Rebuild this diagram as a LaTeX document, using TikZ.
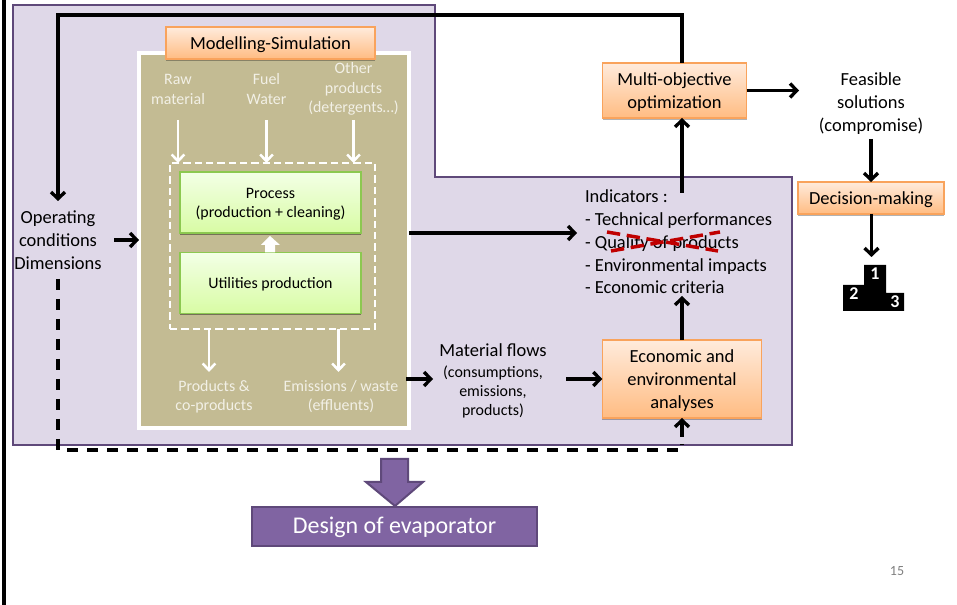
\documentclass[tikz,border=0pt]{standalone}
\usepackage{fontspec}
\setmainfont{Carlito}
\usetikzlibrary{arrows.meta,shadows,calc}
\definecolor{regionfill}{HTML}{DFD8E8}
\definecolor{regionline}{HTML}{5F497A}
\definecolor{tanfill}{HTML}{C3BB93}
\definecolor{darkpurple}{HTML}{8064A2}
\definecolor{orangeline}{HTML}{F9A35C}
\definecolor{orangetop}{HTML}{FFEBDC}
\definecolor{orangebot}{HTML}{FFBC82}
\definecolor{greenline}{HTML}{8CC850}
\definecolor{greentop}{HTML}{F3FFE6}
\definecolor{greenbot}{HTML}{D8FCA4}
\definecolor{whitetext}{HTML}{F2F0E6}
\definecolor{crossred}{HTML}{C00000}
\newcommand{\bigtxt}{\fontsize{13.85}{17.1}\selectfont}
\newcommand{\midtxt}{\fontsize{11.95}{14.6}\selectfont}
\newcommand{\dnbig}{\rule{0pt}{12.4pt}}
\newcommand{\dnmid}{\rule{0pt}{10.6pt}}
\tikzset{
  boxbase/.style={inner sep=0pt,outer sep=0pt,align=center,text=black},
  orangebox/.style={boxbase,draw=orangeline,line width=0.9pt,top color=orangetop,bottom color=orangebot,
    font=\bigtxt,drop shadow={shadow xshift=0pt,shadow yshift=-1.2pt,opacity=.3,fill=black}},
  greenbox/.style={boxbase,draw=greenline,line width=0.9pt,top color=greentop,bottom color=greenbot,
    font=\midtxt,drop shadow={shadow xshift=0pt,shadow yshift=-1.2pt,opacity=.4,fill=black}},
  label/.style={boxbase,font=\bigtxt},
  smalllabel/.style={boxbase,font=\midtxt},
  whitelabel/.style={boxbase,font=\midtxt,text=whitetext},
  arr/.style={line width=2.5pt,-{Straight Barb[length=5pt,width=10.5pt]}},
  whitearr/.style={white,line width=1.9pt,-{Straight Barb[length=5pt,width=9.5pt]}},
  blackdash/.style={line width=2.5pt,dash pattern=on 8.2pt off 6.8pt},
}
\begin{document}
\begin{tikzpicture}[x=0.75pt,y=-0.75pt]
\useasboundingbox (0,0) rectangle (957,605);
\fill[white] (0,0) rectangle (957,605);
\draw[black,line width=2.4pt] (4,0) -- (4,605);
\draw[regionline,fill=regionfill,line width=1.8pt] (13,5) -- (435,5) -- (435,177) -- (792,177) -- (792,445) -- (13,445) -- cycle;

% modelling block
\node[boxbase,draw=white,fill=tanfill,line width=3pt,minimum width=202.5pt,minimum height=280.9pt,
  drop shadow={shadow xshift=0pt,shadow yshift=-1.2pt,opacity=.3,fill=black}] (tan) at (274,240.75) {};
\node[orangebox,minimum width=156.75pt,minimum height=24pt] (model) at (270.5,43) {\dnbig Modelling-Simulation};
\node[whitelabel,minimum width=70pt,minimum height=48.75pt] (raw) at (178,87.5) {\dnmid Raw\\material};
\node[whitelabel,minimum width=50pt,minimum height=48.75pt] (fuel) at (266.5,87.5) {\dnmid Fuel\\Water};
\node[whitelabel,minimum width=72pt,minimum height=48.75pt] (other) at (353.5,87.5) {\dnmid Other\\products\\(detergents…)};
\node[boxbase,draw=white,line width=1.9pt,dash pattern=on 5.5pt off 3pt,minimum width=153.75pt,minimum height=124.5pt] (dash) at (272.5,246) {};
\node[greenbox,minimum width=135.75pt,minimum height=45.75pt] (process) at (270.5,202.5) {\dnmid Process\\(production + cleaning)};
\node[greenbox,minimum width=135.75pt,minimum height=46.1pt] (util) at (270.5,283) {\dnmid Utilities production};
\fill[white] (270,236) -- (280,245) -- (275,245) -- (275,252.5) -- (265,252.5) -- (265,245) -- (261,245) -- cycle;
\draw[whitearr] (raw.south) -- (raw.south |- dash.north);
\draw[whitearr] (fuel.south) -- (fuel.south |- dash.north);
\draw[whitearr] (other.south) -- (other.south |- dash.north);
\coordinate (pa) at (209,372);
\coordinate (ea) at (338.5,372);
\draw[whitearr] (pa |- dash.south) -- (pa);
\draw[whitearr] (ea |- dash.south) -- (ea);
\node[whitelabel] (prod) at (214,396.5) {Products \&\\co-products};
\node[whitelabel] (emis) at (341,396.5) {Emissions / waste\\(effluents)};

% left side
\node[label,minimum width=84pt,minimum height=58.5pt] (oper) at (58,240) {Operating\\conditions\\Dimensions};
\draw[arr] (oper.east) -- (oper.east -| tan.west);

% middle & right nodes
\node[label,anchor=west,align=left,inner xsep=6pt,font=\bigtxt] (ind) at (577,242) {Indicators :\\- Technical performances\\- Quality of products\\- Environmental impacts\\- Economic criteria};
\node[orangebox,minimum width=108pt,minimum height=41.25pt] (multi) at (674.5,90.5) {\dnbig Multi-objective\\optimization};
\node[orangebox,minimum width=119.6pt,minimum height=58.5pt] (econ) at (682,379) {\dnbig Economic and\\environmental\\analyses};
\node[label,minimum width=108pt,minimum height=55.5pt] (feas) at (871,102) {\dnbig Feasible\\solutions\\(compromise)};
\node[orangebox,minimum width=109.5pt,minimum height=24pt] (deci) at (871,198) {\dnbig Decision-making};
\node[boxbase,font=\midtxt] (mat) at (493,381) {{\bigtxt Material flows}\\[1pt](consumptions,\\emissions,\\products)};

% connectors
\coordinate (indtop) at (682,193);
\coordinate (indbot) at (682,296);
\coordinate (indin) at (577,233);
\coordinate (mata) at (433,379);
\coordinate (matb) at (566,379);
\coordinate (emout) at (406,379);
\coordinate (fb) at (58,15);
\coordinate (db) at (682,450);
\coordinate (dbstub) at (682,444);
\coordinate (dbtop) at (682,437);
\coordinate (podtop) at (871.5,257);
\draw[arr] (indtop) -- (indtop |- multi.south);
\draw[arr] (econ.north) -- (indbot);
\draw[arr] (multi.east) -- (feas.west |- multi.east);
\draw[arr] (feas.south) -- (deci.north);
\draw[arr] (deci.south -| podtop) -- (podtop);
\draw[arr] (tan.east |- process.south) -- (indin);
\draw[arr] (emout) -- (mata);
\draw[arr] (matb) -- (econ.west |- matb);
\draw[line width=2.5pt,line join=miter,-{Straight Barb[length=5pt,width=10.5pt]}] (multi.north -| econ.north) |- (fb) -- (oper.north);
\draw[blackdash] (oper.south) |- (db) -- (dbstub);
\draw[arr] (dbtop) -- (econ.south);

% crossed-out line
\draw[crossred,line width=2.6pt,dash pattern=on 10pt off 5pt] (607,232) -- (718,251);
\draw[crossred,line width=2.6pt,dash pattern=on 10pt off 5pt] (611,251) -- (720,232);

% podium
\fill[black] (843,311) -- (843,285) -- (864,285) -- (864,265) -- (886,265) -- (886,293) -- (904,293) -- (904,311) -- cycle;
\node[boxbase,text=white,font=\fontsize{13.5}{13.5}\bfseries\selectfont] (p1) at (875,274) {1};
\node[boxbase,text=white,font=\fontsize{13.5}{13.5}\bfseries\selectfont] (p2) at (854,294) {2};
\node[boxbase,text=white,font=\fontsize{13.5}{13.5}\bfseries\selectfont] (p3) at (895,302) {3};

% design
\draw[regionline,fill=darkpurple,line width=1.5pt] (381,459) -- (408,459) -- (408,482) -- (423,482) -- (395,506) -- (366,482) -- (381,482) -- cycle;
\node[boxbase,draw=regionline,fill=darkpurple,line width=1.5pt,text=white,font=\fontsize{18}{20}\selectfont,minimum width=213.75pt,minimum height=29.25pt] (design) at (394.5,526.5) {\rule{0pt}{14pt}Design of evaporator};
\node[boxbase,text=gray,font=\fontsize{10.5}{12}\selectfont] (page) at (897,571) {15};
\end{tikzpicture}
\end{document}
